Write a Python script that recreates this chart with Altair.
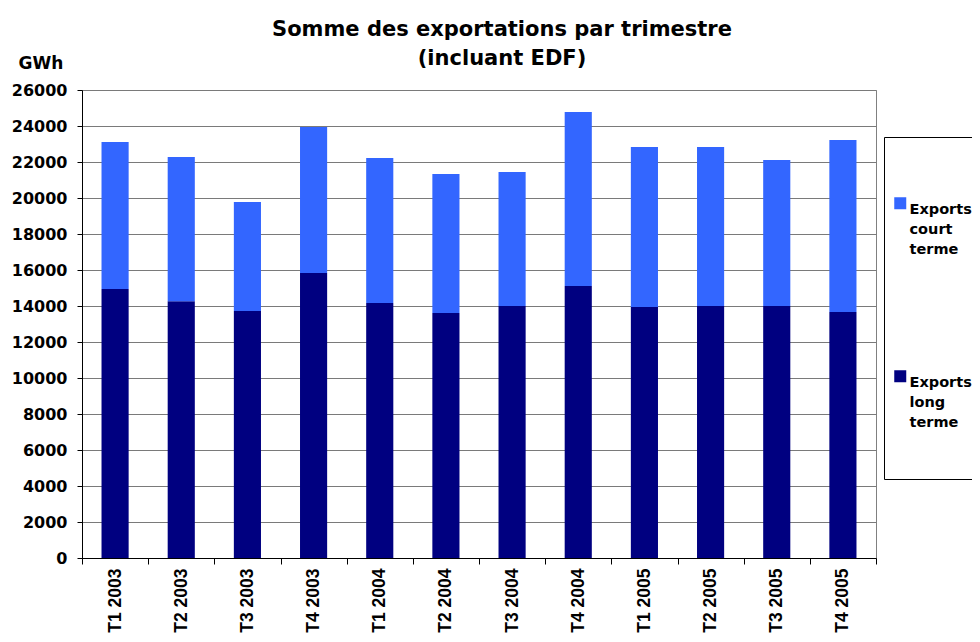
import altair as alt
import pandas as pd

categories = ["T1 2003", "T2 2003", "T3 2003", "T4 2003",
              "T1 2004", "T2 2004", "T3 2004", "T4 2004",
              "T1 2005", "T2 2005", "T3 2005", "T4 2005"]
long_term = [14950, 14270, 13720, 15830, 14170, 13610, 14000, 15110, 13950, 14000, 14000, 13670]
short_term = [8160, 8010, 6060, 8110, 8050, 7720, 7440, 9670, 8880, 8830, 8110, 9550]
series = ["Exports court terme", "Exports long terme"]
colors = ["#3366FF", "#000080"]
y_ticks = list(range(0, 26001, 2000))

rows = []
for c, lv, sv in zip(categories, long_term, short_term):
    rows.append({"cat": c, "serie": series[1], "val": lv, "ord": 0})
    rows.append({"cat": c, "serie": series[0], "val": sv, "ord": 1})
df = pd.DataFrame(rows)

W_PLOT, H_PLOT = 794, 468
PAD = {"left": 74, "top": 82, "right": 96, "bottom": 76}

chart = alt.Chart(df).mark_bar(width=alt.RelativeBandSize(0.41)).encode(
    x=alt.X("cat:N", sort=categories,
            scale=alt.Scale(paddingInner=0, paddingOuter=0),
            axis=alt.Axis(title=None, labelAngle=270, tickBand="extent", tickSize=6,
                          tickColor="black", domainColor="black",
                          labelFont="Liberation Sans", labelFontWeight="bold",
                          labelFontSize=17.5, labelColor="black", labelPadding=4,
                          grid=False)),
    y=alt.Y("val:Q", stack="zero",
            scale=alt.Scale(domain=[0, 26000], nice=False),
            axis=alt.Axis(values=y_ticks, format="d", title="GWh", titleAngle=0,
                          titleAlign="left",
                          titleBaseline="alphabetic", titleX=-64, titleY=-22,
                          titleFont="DejaVu Sans", titleFontSize=17, titleFontWeight="bold",
                          titleColor="black",
                          labelFont="DejaVu Sans", labelFontWeight="bold", labelFontSize=16,
                          labelColor="black", labelPadding=10, tickSize=5,
                          tickColor="black", domainColor="black",
                          gridColor="#7a7a7a", gridWidth=1, gridOpacity=1)),
    color=alt.Color("serie:N",
                    scale=alt.Scale(domain=series, range=colors),
                    legend=alt.Legend(title=" ", titleFontSize=10, titlePadding=40,
                                      orient="none", legendX=802, legendY=47,
                                      strokeColor="black", fillColor="white", padding=9,
                                      rowPadding=72, symbolType="square", symbolSize=144,
                                      symbolStrokeWidth=0, symbolOffset=0,
                                      labelFont="DejaVu Sans", labelFontWeight="bold",
                                      labelFontSize=14.5, labelColor="black",
                                      labelOffset=2, labelLimit=400, labelBaseline="top",
                                      labelExpr="split(datum.label + '  ', ' ')")),
    order=alt.Order("ord:Q"),
).properties(
    width=W_PLOT, height=H_PLOT,
    autosize=alt.AutoSizeParams(type="none"),
    padding=PAD,
    title=alt.TitleParams(text=["Somme des exportations par trimestre", "(incluant EDF)"],
                          font="DejaVu Sans", fontSize=21, fontWeight="bold",
                          color="black", lineHeight=29, anchor="middle", dx=23, dy=25,
                          offset=10),
).configure(
    style={"guide-label": {"lineHeight": 20}},
    view=alt.ViewConfig(stroke="#808080", strokeWidth=1),
)

chart.save("out.html", embed_options={"renderer": "svg", "actions": False})
